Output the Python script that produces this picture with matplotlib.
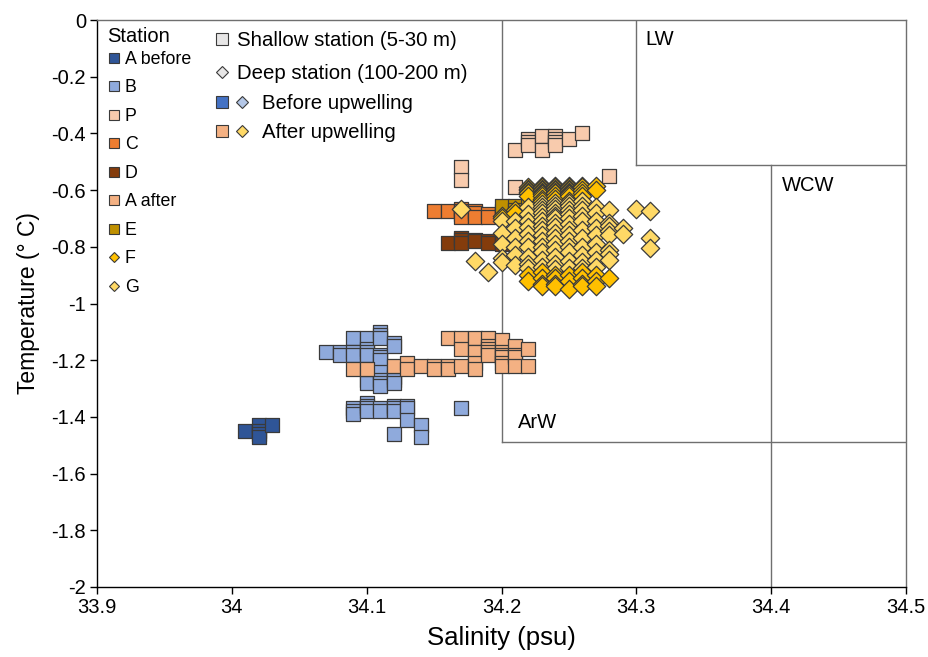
import matplotlib
matplotlib.use('Agg')
import matplotlib.pyplot as plt
from matplotlib.lines import Line2D
from matplotlib.legend_handler import HandlerTuple

plt.rcParams['font.family'] = ['Liberation Sans', 'DejaVu Sans']

# ---------------- data (salinity column -> temperatures) ----------------
A_before = {34.01: [-1.45], 34.02: [-1.43, -1.45, -1.46, -1.47], 34.03: [-1.43]}
B = {
    34.07: [-1.17],
    34.08: [-1.17, -1.18],
    34.09: [-1.12, -1.17, -1.18, -1.37, -1.38, -1.39],
    34.10: [-1.12, -1.16, -1.17, -1.18, -1.27, -1.28, -1.35, -1.36, -1.37, -1.38],
    34.11: [-1.10, -1.11, -1.12, -1.18, -1.19, -1.20, -1.24, -1.27, -1.28, -1.29, -1.37, -1.38],
    34.12: [-1.14, -1.15, -1.26, -1.27, -1.28, -1.36, -1.37, -1.38, -1.46],
    34.13: [-1.36, -1.37, -1.41],
    34.14: [-1.43, -1.47],
    34.17: [-1.37],
}
P = {
    34.17: [-0.52, -0.565],
    34.21: [-0.46, -0.59],
    34.22: [-0.42, -0.43, -0.44],
    34.23: [-0.41, -0.46],
    34.24: [-0.41, -0.42, -0.43, -0.44],
    34.25: [-0.42],
    34.26: [-0.40],
    34.28: [-0.55],
}
C = {
    34.15: [-0.675],
    34.16: [-0.675],
    34.17: [-0.665, -0.675, -0.685, -0.695],
    34.18: [-0.675, -0.68, -0.695],
    34.19: [-0.685, -0.695],
    34.20: [-0.675, -0.69],
}
D = {
    34.16: [-0.785],
    34.17: [-0.77, -0.776, -0.785],
    34.18: [-0.775, -0.78],
    34.19: [-0.78, -0.785],
    34.20: [-0.78, -0.79],
}
A_after = {
    34.09: [-1.23],
    34.10: [-1.23],
    34.12: [-1.22],
    34.13: [-1.21, -1.23],
    34.14: [-1.22],
    34.15: [-1.22, -1.23],
    34.16: [-1.12, -1.22, -1.23],
    34.17: [-1.12, -1.16, -1.22],
    34.18: [-1.12, -1.17, -1.21, -1.23],
    34.19: [-1.12, -1.15, -1.16, -1.17, -1.18],
    34.20: [-1.13, -1.17, -1.18, -1.19, -1.21, -1.22],
    34.21: [-1.15, -1.18, -1.19, -1.22],
    34.22: [-1.16, -1.22],
}
E = {34.20: [-0.655], 34.21: [-0.655, -0.67, -0.685], 34.22: [-0.65]}
F = {
    34.20: [-0.69, -0.70],
    34.21: [-0.67, -0.68],
    34.22: [-0.59, -0.595, -0.60, -0.605, -0.61, -0.62, -0.90, -0.92],
    34.23: [-0.585, -0.59, -0.595, -0.60, -0.605, -0.61, -0.615, -0.62, -0.63, -0.64,
            -0.89, -0.91, -0.93, -0.94],
    34.24: [-0.585, -0.59, -0.595, -0.60, -0.605, -0.61, -0.62, -0.63, -0.90, -0.91, -0.93, -0.94],
    34.25: [-0.585, -0.59, -0.595, -0.60, -0.605, -0.61, -0.615, -0.62, -0.64, -0.90, -0.92, -0.95],
    34.26: [-0.585, -0.59, -0.60, -0.61, -0.62, -0.89, -0.91, -0.93, -0.94],
    34.27: [-0.585, -0.60, -0.90, -0.92, -0.94],
    34.28: [-0.91],
}
G = {
    34.17: [-0.665],
    34.18: [-0.85],
    34.19: [-0.89],
    34.20: [-0.71, -0.75, -0.79, -0.84, -0.855],
    34.21: [-0.71, -0.735, -0.77, -0.80, -0.83, -0.865],
    34.22: [-0.66, -0.685, -0.71, -0.73, -0.755, -0.78, -0.80, -0.835, -0.86, -0.875],
    34.23: [-0.65, -0.66, -0.67, -0.68, -0.695, -0.71, -0.725, -0.74, -0.76, -0.78, -0.80,
            -0.82, -0.845, -0.87],
    34.24: [-0.645, -0.655, -0.665, -0.68, -0.69, -0.70, -0.715, -0.73, -0.75, -0.77, -0.79,
            -0.81, -0.835, -0.86, -0.88],
    34.25: [-0.645, -0.655, -0.67, -0.685, -0.70, -0.72, -0.74, -0.76, -0.78, -0.80, -0.82,
            -0.85, -0.875],
    34.26: [-0.64, -0.655, -0.67, -0.69, -0.71, -0.74, -0.77, -0.80, -0.83, -0.855, -0.875],
    34.27: [-0.66, -0.68, -0.71, -0.735, -0.76, -0.79, -0.82, -0.845, -0.87],
    34.28: [-0.67, -0.715, -0.725, -0.745, -0.76, -0.81, -0.825, -0.845],
    34.29: [-0.735, -0.755],
    34.30: [-0.665],
    34.31: [-0.675, -0.77, -0.805],
}

station_labels = ['A before', 'B', 'P', 'C', 'D', 'A after', 'E', 'F', 'G']
station_colors = ['#2F5597', '#8FAADC', '#F8CBAD', '#ED7D31', '#843C0C',
                  '#F4B183', '#BF9000', '#FFC000', '#FFD966']
station_markers = ['s', 's', 's', 's', 's', 's', 's', 'D', 'D']

# water-mass boundaries
ArW_sal_min, ArW_temp_min = 34.2, -1.49
LW_sal_min, LW_temp_min = 34.3, -0.51
WCW_sal_min = 34.4

x_ticks = [33.9, 34.0, 34.1, 34.2, 34.3, 34.4, 34.5]
x_ticklabels = ['33.9', '34', '34.1', '34.2', '34.3', '34.4', '34.5']
y_ticks = [0, -0.2, -0.4, -0.6, -0.8, -1.0, -1.2, -1.4, -1.6, -1.8, -2.0]
y_ticklabels = ['0', '-0.2', '-0.4', '-0.6', '-0.8', '-1', '-1.2', '-1.4', '-1.6', '-1.8', '-2']


def flatten(d):
    xs, ys = [], []
    for s, temps in d.items():
        for t in temps:
            xs.append(s)
            ys.append(t)
    return xs, ys


fig = plt.figure(figsize=(9.29, 6.57), dpi=100)
ax = fig.add_axes([97 / 929, 1 - 587 / 657, 809 / 929, 567 / 657])

EDGE = '#3a3a3a'
SQ = 100
DI = 88

datasets = [A_before, B, P, C, D, A_after, E]
for d, col in zip(datasets, station_colors[:7]):
    xs, ys = flatten(d)
    ax.scatter(xs, ys, s=SQ, marker='s', facecolor=col, edgecolor=EDGE,
               linewidth=0.9, zorder=3)

fx, fy = flatten(F)
gx, gy = flatten(G)
top = [(x, y) for x, y in zip(fx, fy) if y > -0.88]
bot = [(x, y) for x, y in zip(fx, fy) if y <= -0.88]
ax.scatter([p[0] for p in top], [p[1] for p in top], s=DI, marker='D',
           facecolor=station_colors[7], edgecolor=EDGE, linewidth=0.9, zorder=4)
ax.scatter(gx, gy, s=DI, marker='D', facecolor=station_colors[8], edgecolor=EDGE,
           linewidth=0.9, zorder=4)
ax.scatter([p[0] for p in bot], [p[1] for p in bot], s=DI, marker='D',
           facecolor=station_colors[7], edgecolor=EDGE, linewidth=0.9, zorder=4)

# water-mass boxes
LC = '#6f6f6f'
ax.plot([ArW_sal_min, ArW_sal_min], [0, ArW_temp_min], color=LC, lw=1, zorder=1)
ax.plot([ArW_sal_min, 34.5], [ArW_temp_min, ArW_temp_min], color=LC, lw=1, zorder=1)
ax.plot([LW_sal_min, LW_sal_min], [0, LW_temp_min], color=LC, lw=1, zorder=1)
ax.plot([LW_sal_min, 34.5], [LW_temp_min, LW_temp_min], color=LC, lw=1, zorder=1)
ax.plot([WCW_sal_min, WCW_sal_min], [LW_temp_min, -2], color=LC, lw=1, zorder=1)

ax.text(34.307, -0.07, 'LW', fontsize=14.5, va='center', ha='left')
ax.text(34.408, -0.585, 'WCW', fontsize=14.5, va='center', ha='left')
ax.text(34.212, -1.42, 'ArW', fontsize=14.5, va='center', ha='left')

ax.set_xlim(33.9, 34.5)
ax.set_ylim(-2, 0)
ax.set_xticks(x_ticks)
ax.set_xticklabels(x_ticklabels)
ax.set_yticks(y_ticks)
ax.set_yticklabels(y_ticklabels)
ax.tick_params(direction='out', length=5, width=1, labelsize=14.5, pad=3, color='black')
ax.set_xlabel('Salinity (psu)', fontsize=18.5)
ax.set_ylabel('Temperature (° C)', fontsize=16.5)
ax.xaxis.set_label_coords(0.5, -0.068)
ax.yaxis.set_label_coords(-0.0705, 0.5)
for side in ['left', 'bottom']:
    ax.spines[side].set_color('black')
    ax.spines[side].set_linewidth(1)
for side in ['top', 'right']:
    ax.spines[side].set_color(LC)
    ax.spines[side].set_linewidth(1)

# Station legend
ax.text((107 - 97) / 809, (587 - 37) / 567, 'Station', transform=ax.transAxes,
        fontsize=14.5, ha='left', va='center')
h1 = [Line2D([], [], ls='', marker=m, markerfacecolor=c, markeredgecolor=EDGE,
             markeredgewidth=0.8, markersize=(7.8 if m == 's' else 5.4))
      for m, c in zip(station_markers, station_colors)]
leg1 = ax.legend(h1, station_labels, loc='upper left',
                 bbox_to_anchor=((109 - 97) / 809, (587 - 51) / 567), frameon=False,
                 fontsize=12.8, handlelength=0.56, handletextpad=0.34,
                 labelspacing=0.645, borderpad=0, borderaxespad=0)
ax.add_artist(leg1)

# Depth legend
h2 = [Line2D([], [], ls='', marker='s', markerfacecolor='#E7E6E6', markeredgecolor=EDGE,
             markeredgewidth=0.8, markersize=8.2),
      Line2D([], [], ls='', marker='D', markerfacecolor='#E7E6E6', markeredgecolor=EDGE,
             markeredgewidth=0.8, markersize=6.0)]
leg2 = ax.legend(h2, ['Shallow station (5-30 m)', 'Deep station (100-200 m)'],
                 loc='upper left', bbox_to_anchor=((216 - 97) / 809, (587 - 30.8) / 567),
                 frameon=False, fontsize=14.7, handlelength=0.588, handletextpad=0.44,
                 labelspacing=0.70, borderpad=0, borderaxespad=0)
ax.add_artist(leg2)

# Upwelling legend
sq_b = Line2D([], [], ls='', marker='s', markerfacecolor='#4472C4', markeredgecolor=EDGE,
              markeredgewidth=0.8, markersize=8.2)
di_b = Line2D([], [], ls='', marker='D', markerfacecolor='#B4C7E7', markeredgecolor=EDGE,
              markeredgewidth=0.8, markersize=6.0)
sq_a = Line2D([], [], ls='', marker='s', markerfacecolor='#F4B183', markeredgecolor=EDGE,
              markeredgewidth=0.8, markersize=8.2)
di_a = Line2D([], [], ls='', marker='D', markerfacecolor='#FFD966', markeredgecolor=EDGE,
              markeredgewidth=0.8, markersize=6.0)
leg3 = ax.legend([(sq_b, di_b), (sq_a, di_a)], ['Before upwelling', 'After upwelling'],
                 handler_map={tuple: HandlerTuple(ndivide=None, pad=0.392)},
                 loc='upper left', bbox_to_anchor=((216 - 97) / 809, (587 - 93.8) / 567),
                 frameon=False, fontsize=14.7, handlelength=1.567, handletextpad=0.686,
                 labelspacing=0.52, borderpad=0, borderaxespad=0)

fig.savefig('out.png', dpi=100)
